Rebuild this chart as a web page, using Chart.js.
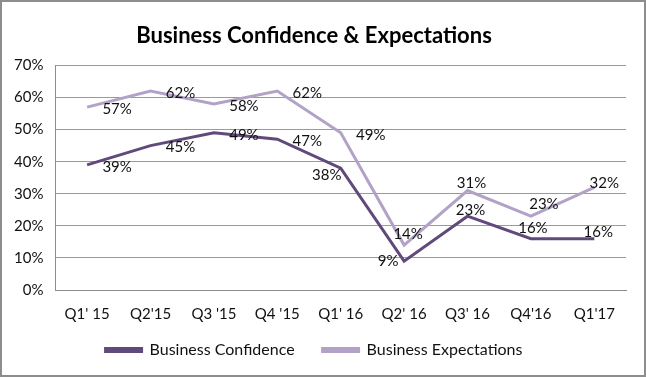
<!DOCTYPE html>
<html>
<head>
<meta charset="utf-8">
<script src="https://cdn.jsdelivr.net/npm/chart.js@4.4.1/dist/chart.umd.min.js"></script>
<style>
    html, body { margin: 0; padding: 0; background: #fff; }
    #wrap {
        width: 646px; height: 377px; box-sizing: border-box;
        border: 2px solid #8d8d8d; position: relative;
    }
</style>
</head>
<body>
<div id="wrap"><canvas id="chart"></canvas></div>
<script>
const quarters = ["Q1' 15", "Q2'15", "Q3 '15", "Q4 '15", "Q1' 16", "Q2' 16", "Q3' 16", "Q4'16", "Q1'17"];
const confidence = [39, 45, 49, 47, 38, 9, 23, 16, 16];
const expectations = [57, 62, 58, 62, 49, 14, 31, 23, 32];

// desplazamiento [dx, dy] del centro de cada etiqueta respecto a su punto
const confidenceLabelShift = [[30, 1], [30, 1], [30, 1], [30, 1], [-14, 6], [-16, -1], [3, -7], [2, -12], [4, -8]];
const expectationsLabelShift = [[30, 1], [30, 1], [30, 1], [30, 1], [30, 1], [4, -12], [4, -8], [13, -13], [10, -5]];

const FONT = "Lato, 'Liberation Sans', sans-serif";

const pointLabels = {
    id: "pointLabels",
    afterDatasetsDraw(chart) {
        const ctx = chart.ctx;
        ctx.save();
        ctx.font = "15px " + FONT;
        ctx.fillStyle = "#111";
        ctx.textAlign = "center";
        ctx.textBaseline = "middle";
        chart.data.datasets.forEach((ds, i) => {
            const shift = ds.labelShift;
            chart.getDatasetMeta(i).data.forEach((pt, j) => {
                ctx.fillText(ds.data[j] + "%", pt.x + shift[j][0], pt.y + shift[j][1] + 1);
            });
        });
        ctx.restore();
    }
};

new Chart(document.getElementById("chart"), {
    type: "line",
    data: {
        labels: quarters,
        datasets: [{
            label: "Business Confidence",
            data: confidence,
            labelShift: confidenceLabelShift,
            borderColor: "#604a7b",
            backgroundColor: "#604a7b",
            borderWidth: 3,
            pointRadius: 0,
            tension: 0
        }, {
            label: "Business Expectations",
            data: expectations,
            labelShift: expectationsLabelShift,
            borderColor: "#b3a2c7",
            backgroundColor: "#b3a2c7",
            borderWidth: 3,
            pointRadius: 0,
            tension: 0
        }]
    },
    options: {
        responsive: true,
        maintainAspectRatio: false,
        animation: false,
        layout: { padding: { left: 0, right: 18, top: 6, bottom: 7 } },
        scales: {
            x: {
                offset: true,
                grid: { display: false, drawTicks: false },
                border: { color: "#8c8c8c" },
                ticks: { color: "#111", font: { size: 15, family: FONT }, padding: 15, maxRotation: 0 }
            },
            y: {
                min: 0,
                max: 70,
                grid: { color: "#9a9a9a", drawTicks: false },
                border: { color: "#8c8c8c" },
                ticks: {
                    stepSize: 10,
                    color: "#111",
                    font: { size: 15, family: FONT },
                    padding: 12,
                    callback: v => v + "%"
                }
            }
        },
        plugins: {
            title: {
                display: true,
                text: "Business Confidence & Expectations",
                color: "#000",
                font: { size: 22, weight: "bold", family: FONT },
                padding: { top: 15, bottom: 16 }
            },
            legend: {
                position: "bottom",
                labels: {
                    boxWidth: 36,
                    boxHeight: 3,
                    color: "#111",
                    font: { size: 16, family: FONT },
                    padding: 4,
                    // un poco más de hueco entre las dos entradas
                    generateLabels: chart => {
                        const items = Chart.defaults.plugins.legend.labels.generateLabels(chart);
                        items.forEach((it, i) => {
                            if (i < items.length - 1) it.text += "\u2002\u2002\u2002";
                        });
                        return items;
                    }
                }
            },
            tooltip: { enabled: false }
        }
    },
    plugins: [pointLabels]
});
</script>
</body>
</html>
